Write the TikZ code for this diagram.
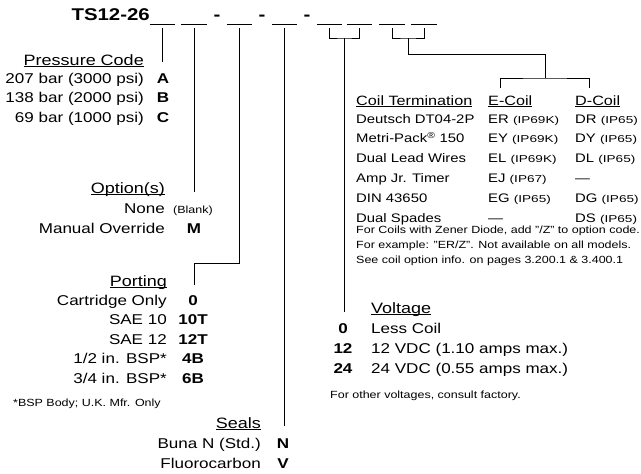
\documentclass[tikz,border=0pt]{standalone}
\usepackage{fontspec}
\setmainfont{Liberation Sans}[FakeStretch=1.2]
\newfontfamily\ipfont{Liberation Sans}[FakeStretch=1.36]
\usepackage{tikz}
\newcommand{\ulin}[1]{\setbox0\hbox{#1}\rlap{\rule[-2pt]{\wd0}{0.8pt}}\box0}
\newcommand{\ipr}[1]{{\ipfont\fontsize{10}{12}\selectfont(#1)}}
\tikzstyle{line} = [draw, line width=1pt]
\tikzstyle{blank} = [inner sep=0pt, minimum width=25pt, minimum height=8pt]
\tikzstyle{partno} = [inner sep=0pt, font=\fontsize{17}{20}\selectfont\bfseries]
\tikzstyle{heading} = [inner sep=0pt, font=\fontsize{15}{18}\selectfont]
\tikzstyle{entry} = [inner sep=0pt, font=\fontsize{14.2}{17}\selectfont]
\tikzstyle{letter} = [inner sep=0pt, font=\fontsize{14.2}{17}\selectfont\bfseries]
\tikzstyle{cheading} = [inner sep=0pt, font=\fontsize{13.5}{16}\selectfont]
\tikzstyle{centry} = [inner sep=0pt, font=\fontsize{12.4}{15}\selectfont]
\tikzstyle{smalltext} = [inner sep=0pt, font=\fontsize{10.4}{12}\selectfont]

\begin{document}
\begin{tikzpicture}[x=1pt, y=-1pt]
    \useasboundingbox (0,0) rectangle (641,474);
    % model code with its blanks
    \node[partno, anchor=base east] (ts) at (150,20) {TS12-26};
    \node[blank] (b1) at (162.5,24) {};
    \node[blank] (b2) at (194,24) {};
    \node[partno, anchor=base] (h1) at (217,20) {-};
    \node[blank] (b3) at (239.5,24) {};
    \node[partno, anchor=base] (h2) at (262,20) {-};
    \node[blank] (b4) at (284.5,24) {};
    \node[partno, anchor=base] (h3) at (307,20) {-};
    \node[blank] (b5) at (329.5,24) {};
    \node[blank] (b6) at (359.5,24) {};
    \node[blank] (b7) at (392,24) {};
    \node[blank] (b8) at (424,24) {};
    \path[line] (b1.west) -- (b1.east) (b2.west) -- (b2.east) (b3.west) -- (b3.east)
        (b4.west) -- (b4.east) (b5.west) -- (b5.east) (b6.west) -- (b6.east)
        (b7.west) -- (b7.east) (b8.west) -- (b8.east);

    % pressure code
    \node[heading, anchor=base east] (press) at (144,65) {\ulin{Pressure Code}};
    \node[entry, anchor=base east] (p1) at (144,83) {207 bar (3000 psi)};
    \node[entry, anchor=base east] (p2) at (144,102.5) {138 bar (2000 psi)};
    \node[entry, anchor=base east] (p3) at (144,122) {69 bar (1000 psi)};
    \node[letter, anchor=base] (pa) at (163,83) {A};
    \node[letter, anchor=base] (pb) at (163,102.5) {B};
    \node[letter, anchor=base] (pc) at (163,122) {C};

    % options
    \node[heading, anchor=base east] (opt) at (165,193) {\ulin{Option(s)}};
    \node[entry, anchor=base east] (o1) at (165,213) {None};
    \node[smalltext, anchor=base west] (onone) at (173,213) {(Blank)};
    \node[entry, anchor=base east] (o2) at (165,233) {Manual Override};
    \node[letter, anchor=base] (om) at (194,233) {M};

    % porting
    \node[heading, anchor=base east] (port) at (167,286) {\ulin{Porting}};
    \node[entry, anchor=base east] (r1) at (167,305) {Cartridge Only};
    \node[entry, anchor=base east] (r2) at (167,324.5) {SAE 10};
    \node[entry, anchor=base east] (r3) at (167,344) {SAE 12};
    \node[entry, anchor=base east] (r4) at (167,363.5) {1/2 in. BSP*};
    \node[entry, anchor=base east] (r5) at (167,383) {3/4 in. BSP*};
    \node[letter, anchor=base] (r0) at (193,305) {0};
    \node[letter, anchor=base] (r10) at (193,324.5) {10T};
    \node[letter, anchor=base] (r12) at (193,344) {12T};
    \node[letter, anchor=base] (r4b) at (193,363.5) {4B};
    \node[letter, anchor=base] (r6b) at (193,383) {6B};
    \node[smalltext, anchor=base west] (bspnote) at (13,406) {*BSP Body; U.K. Mfr. Only};

    % seals
    \node[heading, anchor=base east] (seal) at (261,428) {\ulin{Seals}};
    \node[entry, anchor=base east] (s1) at (261,448) {Buna N (Std.)};
    \node[entry, anchor=base east] (s2) at (261,468) {Fluorocarbon};
    \node[letter, anchor=base] (sn) at (283,448) {N};
    \node[letter, anchor=base] (sv) at (283,468) {V};

    % coil termination
    \node[cheading, anchor=base west] (coil) at (356,105) {\ulin{Coil Termination}};
    \node[cheading, anchor=base west] (ecoil) at (488,105) {\ulin{E-Coil}};
    \node[cheading, anchor=base west] (dcoil) at (575,105) {\ulin{D-Coil}};
    \node[centry, anchor=base west] (ct1) at (356,123) {Deutsch DT04-2P};
    \node[centry, anchor=base west] (ct2) at (356,142.8) {Metri-Pack\textsuperscript{\textregistered} 150};
    \node[centry, anchor=base west] (ct3) at (356,162.6) {Dual Lead Wires};
    \node[centry, anchor=base west] (ct4) at (356,182.4) {Amp Jr. Timer};
    \node[centry, anchor=base west] (ct5) at (356,202.2) {DIN 43650};
    \node[centry, anchor=base west] (ct6) at (356,222) {Dual Spades};
    \node[centry, anchor=base west] (ce1) at (488,123) {ER \ipr{IP69K}};
    \node[centry, anchor=base west] (ce2) at (488,142.8) {EY \ipr{IP69K}};
    \node[centry, anchor=base west] (ce3) at (488,162.6) {EL \ipr{IP69K}};
    \node[centry, anchor=base west] (ce4) at (488,182.4) {EJ \ipr{IP67}};
    \node[centry, anchor=base west] (ce5) at (488,202.2) {EG \ipr{IP65}};
    \node[centry, anchor=base west] (ce6) at (488,222) {\textemdash};
    \node[centry, anchor=base west] (cd1) at (575,123) {DR \ipr{IP65}};
    \node[centry, anchor=base west] (cd2) at (575,142.8) {DY \ipr{IP65}};
    \node[centry, anchor=base west] (cd3) at (575,162.6) {DL \ipr{IP65}};
    \node[centry, anchor=base west] (cd4) at (575,182.4) {\textemdash};
    \node[centry, anchor=base west] (cd5) at (575,202.2) {DG \ipr{IP65}};
    \node[centry, anchor=base west] (cd6) at (575,222) {DS \ipr{IP65}};
    \node[smalltext, anchor=base west] (zn1) at (356,233) {For Coils with Zener Diode, add "/Z" to option code.};
    \node[smalltext, anchor=base west] (zn2) at (356,248) {For example: "ER/Z". Not available on all models.};
    \node[smalltext, anchor=base west] (zn3) at (356,263) {See coil option info. on pages 3.200.1 \& 3.400.1};

    % voltage
    \node[heading, anchor=base west] (volt) at (371,313) {\ulin{Voltage}};
    \node[entry, anchor=base west] (v1) at (371,333) {Less Coil};
    \node[entry, anchor=base west] (v2) at (371,353) {12 VDC (1.10 amps max.)};
    \node[entry, anchor=base west] (v3) at (371,373) {24 VDC (0.55 amps max.)};
    \node[letter, anchor=base] (v0) at (343,333) {0};
    \node[letter, anchor=base] (v12) at (343,353) {12};
    \node[letter, anchor=base] (v24) at (343,373) {24};
    \node[smalltext, anchor=base west] (vnote) at (330,398) {For other voltages, consult factory.};

    % leader lines
    \coordinate (e1) at (162.5,62);
    \coordinate (e2) at (194,192);
    \coordinate (k3) at (194,263);
    \coordinate (e3) at (194,285);
    \coordinate (e4) at (284.5,426);
    \coordinate (j56) at (344.5,38);
    \coordinate (e56) at (344.5,312);
    \coordinate (j78) at (408,38);
    \coordinate (k78) at (408,54);
    \coordinate (jc) at (545,78);
    \coordinate (te) at (500,88);
    \coordinate (td) at (589,88);
    \path[line] (b1.south) -- (e1);
    \path[line] (b2.south) -- (e2);
    \path[line] (b3.south) |- (k3) -- (e3);
    \path[line] (b4.south) -- (e4);
    \path[line] (b5.south) |- (j56) -| (b6.south);
    \path[line] (j56) -- (e56);
    \path[line] (b7.south) |- (j78) -| (b8.south);
    \path[line] (j78) -- (k78) -| (jc);
    \path[line] (te) |- (jc) -| (td);
\end{tikzpicture}
\end{document}
